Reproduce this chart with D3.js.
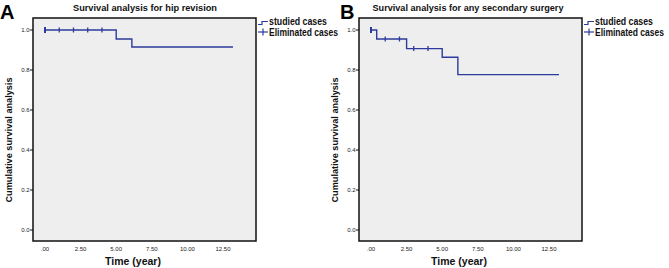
<!DOCTYPE html>
<html>
<head>
<meta charset="utf-8">
<script src="https://cdn.jsdelivr.net/npm/d3@7"></script>
<style>
  body { margin: 0; background: #fff; }
  svg { display: block; font-family: "Liberation Sans", Arial, sans-serif; }
  .narrow { font-family: "Liberation Sans Narrow", "Liberation Sans", Arial, sans-serif; }
</style>
</head>
<body>
<div id="chart"></div>
<script>
// Kaplan-Meier curves, two panels

const xTicks = [0, 2.5, 5, 7.5, 10, 12.5];
const yTicks = [0, 0.2, 0.4, 0.6, 0.8, 1.0];

// Panel A: hip revision
const timesA = [0, 5.0, 6.1, 13.2];
const survA = [1.0, 0.955, 0.915, 0.915];
const censorA = [0, 1, 2, 3, 4];

// Panel B: any secondary surgery
const timesB = [0, 0.4, 2.5, 5.0, 6.1, 13.2];
const survB = [1.0, 0.955, 0.907, 0.864, 0.777, 0.777];
const censorB = [0, 1, 2, 3, 4];

const panels = [
    { letter: 'A', title: 'Survival analysis for hip revision', times: timesA, surv: survA, censor: censorA, left: 33, titleX: 145, titleW: 144 },
    { letter: 'B', title: 'Survival analysis for any secondary surgery', times: timesB, surv: survB, censor: censorB, left: 359, titleX: 468, titleW: 191 }
];

const width = 669, height = 268;
const lineColor = '#2c3b9c';

const svg = d3.select('#chart').append('svg')
    .attr('width', width)
    .attr('height', height);

panels.forEach((p, pi) => {
    const boxL = p.left, boxR = p.left + 223, boxT = 18, boxB = 241;
    const labelOffset = pi === 0 ? 0 : 326;

    const x = d3.scaleLinear().domain([0, 12.5]).range([boxL + 12, boxL + 190]);
    const y = d3.scaleLinear().domain([0, 1]).range([230, 30]);

    const g = svg.append('g');

    // plot area
    g.append('rect')
        .attr('x', boxL).attr('y', boxT)
        .attr('width', boxR - boxL).attr('height', boxB - boxT)
        .attr('fill', '#eeeeee')
        .attr('stroke', '#111')
        .attr('stroke-width', 1.5);

    // y axis ticks + labels
    yTicks.forEach(t => {
        g.append('line')
            .attr('x1', boxL - 3).attr('x2', boxL)
            .attr('y1', y(t)).attr('y2', y(t))
            .attr('stroke', '#111').attr('stroke-width', 1);
        g.append('text')
            .attr('x', boxL - 3.5).attr('y', y(t) + 2)
            .attr('text-anchor', 'end')
            .attr('font-size', '6px')
            .attr('fill', '#222')
            .text(d3.format('.1f')(t));
    });

    // x tick labels (SPSS style ".00")
    xTicks.forEach(t => {
        g.append('text')
            .attr('x', x(t)).attr('y', 251)
            .attr('text-anchor', 'middle')
            .attr('font-size', '6px')
            .attr('fill', '#222')
            .text(t === 0 ? '.00' : d3.format('.2f')(t));
    });

    // axis titles
    g.append('text')
        .attr('x', x(6.25) - 1).attr('y', 265)
        .attr('text-anchor', 'middle')
        .attr('font-size', '10.5px')
        .attr('font-weight', 'bold')
        .attr('fill', '#111')
        .text('Time (year)');

    g.append('text')
        .attr('class', 'narrow')
        .attr('transform', `translate(${10 + labelOffset + 2}, 140) rotate(-90)`)
        .attr('text-anchor', 'middle')
        .attr('font-size', '9.5px')
        .attr('font-weight', 'bold')
        .attr('fill', '#111')
        .attr('textLength', 125)
        .attr('lengthAdjust', 'spacingAndGlyphs')
        .text('Cumulative survival analysis');

    // title
    g.append('text')
        .attr('class', 'narrow')
        .attr('x', p.titleX).attr('y', 11)
        .attr('text-anchor', 'middle')
        .attr('font-size', '9.5px')
        .attr('font-weight', 'bold')
        .attr('fill', '#111')
        .attr('textLength', p.titleW)
        .attr('lengthAdjust', 'spacingAndGlyphs')
        .text(p.title);

    // panel letter
    g.append('text')
        .attr('x', pi === 0 ? 0 : 340).attr('y', 18.5)
        .attr('font-size', '20px')
        .attr('font-weight', 'bold')
        .attr('fill', '#000')
        .text(p.letter);

    // survival step curve
    const pts = p.times.map((t, i) => [t, p.surv[i]]);
    const line = d3.line()
        .x(d => x(d[0]))
        .y(d => y(d[1]))
        .curve(d3.curveStepAfter);
    g.append('path')
        .datum(pts)
        .attr('fill', 'none')
        .attr('stroke', lineColor)
        .attr('stroke-width', 1.4)
        .attr('d', line);

    // censor marks
    const survAt = t => {
        let s = p.surv[0];
        p.times.forEach((tt, i) => { if (tt <= t) s = p.surv[i]; });
        return s;
    };
    p.censor.forEach((t, i) => {
        g.append('line')
            .attr('x1', x(t)).attr('x2', x(t))
            .attr('y1', y(survAt(t)) - (i === 0 ? 3 : 2.5))
            .attr('y2', y(survAt(t)) + (i === 0 ? 3 : 2.5))
            .attr('stroke', lineColor)
            .attr('stroke-width', i === 0 ? 2 : 1.3);
    });

    // legend (narrow face so it fits before the next panel / page edge)
    const lx = boxR + 2;
    const leg = g.append('g').attr('class', 'narrow');
    leg.append('path')
        .attr('d', `M${lx},24.5 H${lx + 4} V21.5 H${lx + 10}`)
        .attr('fill', 'none')
        .attr('stroke', lineColor)
        .attr('stroke-width', 1.2);
    leg.append('text')
        .attr('x', lx + 11).attr('y', 25)
        .attr('font-size', '10px')
        .attr('font-weight', 'bold')
        .attr('fill', '#111')
        .attr('textLength', 58)
        .attr('lengthAdjust', 'spacingAndGlyphs')
        .text('studied cases');
    leg.append('line')
        .attr('x1', lx).attr('x2', lx + 10)
        .attr('y1', 32).attr('y2', 32)
        .attr('stroke', lineColor).attr('stroke-width', 1.2);
    leg.append('line')
        .attr('x1', lx + 5).attr('x2', lx + 5)
        .attr('y1', 28.5).attr('y2', 35.5)
        .attr('stroke', lineColor).attr('stroke-width', 1.2);
    leg.append('text')
        .attr('x', lx + 11).attr('y', 36)
        .attr('font-size', '10px')
        .attr('font-weight', 'bold')
        .attr('fill', '#111')
        .attr('textLength', 69)
        .attr('lengthAdjust', 'spacingAndGlyphs')
        .text('Eliminated cases');
});
</script>
</body>
</html>
